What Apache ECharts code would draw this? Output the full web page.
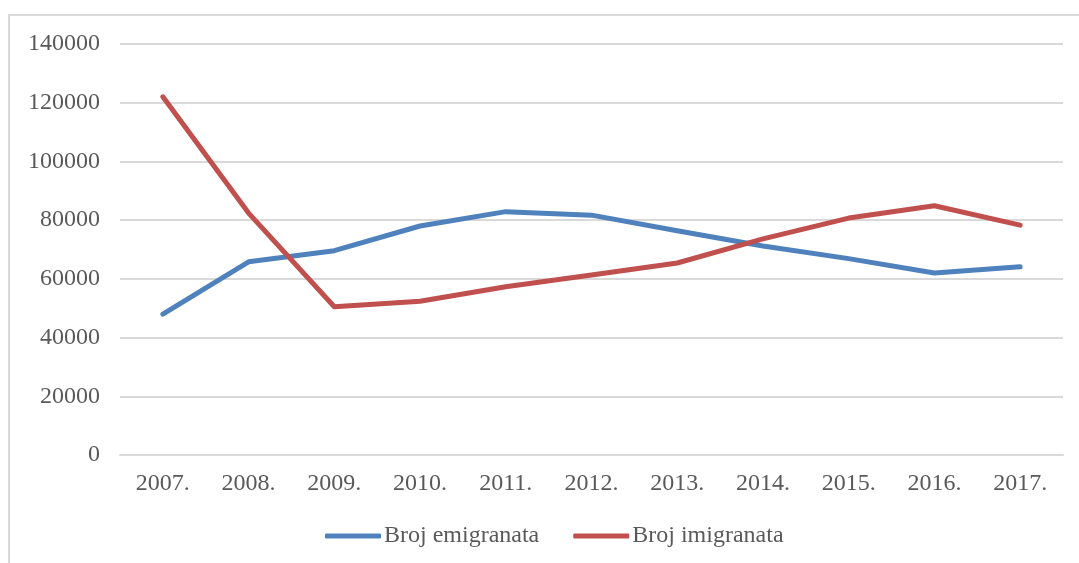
<!DOCTYPE html>
<html>
<head>
<meta charset="utf-8">
<script src="https://cdn.jsdelivr.net/npm/echarts@6/dist/echarts.min.js"></script>
<style>
  html, body { margin: 0; padding: 0; background: #fff; }
  #chart { width: 1079px; height: 563px; }
</style>
</head>
<body>
<div id="chart"></div>
<script>
// years on the x axis
var years = ['2007.', '2008.', '2009.', '2010.', '2011.', '2012.', '2013.', '2014.', '2015.', '2016.', '2017.'];
// values
var emigranti = [48000, 65800, 69600, 78000, 82900, 81700, 76400, 71200, 66900, 62000, 64100];
var imigranti = [122000, 82400, 50500, 52400, 57300, 61300, 65400, 73600, 80700, 84900, 78300];
var seriesNames = ['Broj emigranata', 'Broj imigranata'];

var fontFam = '"Liberation Serif", "Times New Roman", serif';
var textCol = '#595959';
var gridCol = '#d9d9d9';

var myChart = echarts.init(document.getElementById('chart'));

var option = {
    backgroundColor: '#fff',
    animation: false,
    color: ['#4f81bd', '#c0504d'],
    graphic: [{
        type: 'rect',
        shape: { x: 9, y: 15, width: 1100, height: 600 },
        style: { fill: 'none', stroke: gridCol, lineWidth: 2 },
        silent: true
    }],
    grid: {
        left: 120,
        right: 16,
        top: 44,
        bottom: 108
    },
    legend: {
        left: 320,
        top: 519,
        icon: 'roundRect',
        itemWidth: 56,
        itemHeight: 5,
        itemGap: 34,
        data: seriesNames,
        textStyle: {
            fontFamily: fontFam,
            fontSize: 24,
            color: textCol,
            padding: [0, 0, 0, -2]
        }
    },
    xAxis: {
        type: 'category',
        data: years,
        boundaryGap: true,
        axisLine: { show: true, lineStyle: { color: gridCol, width: 2 } },
        axisTick: { show: false },
        axisLabel: {
            margin: 17,
            fontFamily: fontFam,
            fontSize: 24,
            color: textCol
        }
    },
    yAxis: {
        type: 'value',
        min: 0,
        max: 140000,
        interval: 20000,
        axisLine: { show: false },
        axisTick: { show: false },
        splitLine: { lineStyle: { color: gridCol, width: 2 } },
        axisLabel: {
            margin: 20,
            fontFamily: fontFam,
            fontSize: 24,
            color: textCol,
            formatter: function (v) { return String(v); }
        }
    },
    series: [
        {
            name: seriesNames[0],
            type: 'line',
            data: emigranti,
            symbol: 'none',
            lineStyle: { width: 5, cap: 'round', join: 'round' }
        },
        {
            name: seriesNames[1],
            type: 'line',
            data: imigranti,
            symbol: 'none',
            lineStyle: { width: 5, cap: 'round', join: 'round' }
        }
    ]
};

myChart.setOption(option);
</script>
</body>
</html>
